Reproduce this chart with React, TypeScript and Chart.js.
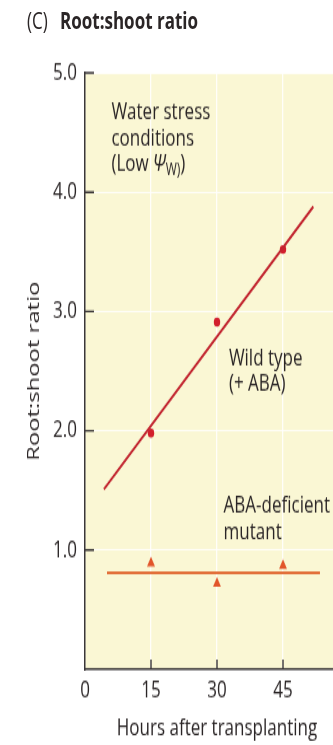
import React, { useEffect, useRef } from "react";
import { Chart, registerables } from "chart.js";

Chart.register(...registerables);

// ---- data ----
const xTicks = [0, 15, 30, 45, 60];
const yTicks = [0, 1, 2, 3, 4, 5];
const hours = [15, 30, 45];
const wildTypeRatio = [1.98, 2.91, 3.52];
const mutantRatio = [0.89, 0.72, 0.87];
const wildFitX = [4.3, 51.9];
const wildFitY = [1.51, 3.88];
const mutantFitX = [5.0, 53.4];
const mutantFitY = [0.81, 0.81];
const noteText = [["Water stress", "conditions", "(Low |Ψ|W)"], ["Wild type", "(+ ABA)"], ["ABA-deficient", "mutant"]];
const noteX = [6.0, 32.7, 31.5];
const noteY = [4.61, 2.55, 1.31];

const W = 380;
const H = 532;
const S = 745 / H;
const FONT = "'Open Sans', 'Noto Sans', sans-serif";
const INK = "#2a2526";

const bgPlugin = {
  id: "plotBg",
  beforeDraw(chart: any) {
    const { ctx, chartArea } = chart;
    ctx.save();
    ctx.fillStyle = "#FAF7D4";
    ctx.fillRect(chartArea.left, chartArea.top, chartArea.right - chartArea.left, chartArea.bottom - chartArea.top);
    ctx.restore();
  },
};

const tickPlugin = {
  id: "inwardTicks",
  afterDraw(chart: any) {
    const { ctx, chartArea } = chart;
    const xs = chart.scales.x;
    const ys = chart.scales.y;
    ctx.save();
    ctx.strokeStyle = "#3b3738";
    ctx.lineWidth = 1.4;
    ctx.beginPath();
    xs.ticks.forEach((t: any) => {
      if (t.value === 0) return;
      const px = xs.getPixelForValue(t.value);
      ctx.moveTo(px, chartArea.bottom);
      ctx.lineTo(px, chartArea.bottom - 7);
    });
    ys.ticks.forEach((t: any) => {
      if (t.value === 0) return;
      const py = ys.getPixelForValue(t.value);
      ctx.moveTo(chartArea.left, py);
      ctx.lineTo(chartArea.left + 9, py);
    });
    ctx.stroke();
    ctx.restore();
  },
};

const notePlugin = {
  id: "notes",
  afterDatasetsDraw(chart: any) {
    const { ctx } = chart;
    const xs = chart.scales.x;
    const ys = chart.scales.y;
    ctx.save();
    ctx.fillStyle = INK;
    ctx.textBaseline = "alphabetic";
    ctx.textAlign = "left";
    noteText.forEach((lines, i) => {
      const x0 = xs.getPixelForValue(noteX[i]);
      const y0 = ys.getPixelForValue(noteY[i]);
      lines.forEach((line, j) => {
        const y = y0 + j * (26 / S);
        const parts = line.split("|");
        let x = x0;
        parts.forEach((p, k) => {
          if (k === 1) {
            ctx.font = `italic 17px ${FONT}`;
            ctx.fillText(p, x, y);
          } else if (k === 2) {
            ctx.font = `12px ${FONT}`;
            ctx.fillText(p, x, y + 3);
            x += ctx.measureText(p).width;
            ctx.font = `17px ${FONT}`;
            ctx.fillText(")", x, y);
            return;
          } else {
            ctx.font = `17px ${FONT}`;
            ctx.fillText(p, x, y);
          }
          x += ctx.measureText(p).width;
        });
      });
    });
    ctx.restore();
  },
};

export default function App() {
  const ref = useRef<HTMLCanvasElement | null>(null);

  useEffect(() => {
    if (!ref.current) return;
    const pts = (xv: number[], yv: number[]) => xv.map((x, i) => ({ x, y: yv[i] }));
    const chart = new Chart(ref.current, {
      type: "scatter",
      data: {
        datasets: [
          {
            data: pts(wildFitX, wildFitY),
            showLine: true,
            borderColor: "#C2242F",
            borderWidth: 2,
            pointRadius: 0,
          },
          {
            data: pts(hours, wildTypeRatio),
            pointStyle: "circle",
            pointRadius: 3.2,
            backgroundColor: "#D21F2C",
            borderWidth: 0,
          },
          {
            data: pts(mutantFitX, mutantFitY),
            showLine: true,
            borderColor: "#E2703A",
            borderWidth: 2.2,
            pointRadius: 0,
          },
          {
            data: pts(hours, mutantRatio),
            pointStyle: "triangle",
            pointRadius: 4.6,
            backgroundColor: "#E2552A",
            borderWidth: 0,
          },
        ] as any,
      },
      options: {
        animation: false,
        responsive: false,
        devicePixelRatio: 1,
        events: [],
        layout: { padding: { top: 52, right: 31, bottom: 0, left: 0 } },
        plugins: { legend: { display: false }, tooltip: { enabled: false } },
        scales: {
          x: {
            type: "linear",
            min: 0,
            max: 60,
            afterBuildTicks: (s: any) => { s.ticks = xTicks.map((v) => ({ value: v })); },
            afterFit: (s: any) => { s.height = 54; },
            ticks: { font: { family: FONT, size: 17 }, color: INK, padding: 5 },
            grid: { color: "rgba(255,255,255,0.85)", lineWidth: 1.3, drawTicks: false },
            border: { display: true, color: "#3b3738", width: 1.5 },
            title: {
              display: true,
              text: "Hours after transplanting",
              font: { family: FONT, size: 17 },
              color: INK,
              padding: { top: 0, bottom: 2 },
            },
          },
          y: {
            type: "linear",
            min: 0,
            max: 5,
            afterBuildTicks: (s: any) => { s.ticks = yTicks.map((v) => ({ value: v })); },
            afterFit: (s: any) => { s.width = 85; },
            ticks: {
              font: { family: FONT, size: 17 },
              color: INK,
              padding: 8,
              callback: (v: any) => (Number(v) === 0 ? "" : Number(v).toFixed(1)),
            },
            grid: { color: "rgba(255,255,255,0.85)", lineWidth: 1, drawTicks: false },
            border: { display: true, color: "#3b3738", width: 1.5 },
            title: {
              display: true,
              text: "Root:shoot ratio",
              font: { family: FONT, size: 17 },
              color: INK,
              padding: { top: 24, bottom: 0 },
            },
          },
        },
      },
      plugins: [bgPlugin, tickPlugin, notePlugin],
    } as any);
    return () => chart.destroy();
  }, []);

  return (
    <div style={{ position: "fixed", left: 0, top: 0, width: 333, height: 745, overflow: "hidden", background: "#fff" }}>
      <div style={{ position: "absolute", left: 0, top: 0, width: W, height: H, transform: `scaleY(${S})`, transformOrigin: "0 0" }}>
        <div style={{ position: "absolute", left: 27, top: 5, font: `17px/20px ${FONT}`, color: INK, whiteSpace: "nowrap" }}>
          <span>(C)</span>
          <span style={{ position: "absolute", left: 33, fontWeight: 700 }}>Root:shoot ratio</span>
        </div>
        <canvas ref={ref} width={W} height={H} style={{ position: "absolute", left: 0, top: 0, width: W, height: H }} />
      </div>
    </div>
  );
}
